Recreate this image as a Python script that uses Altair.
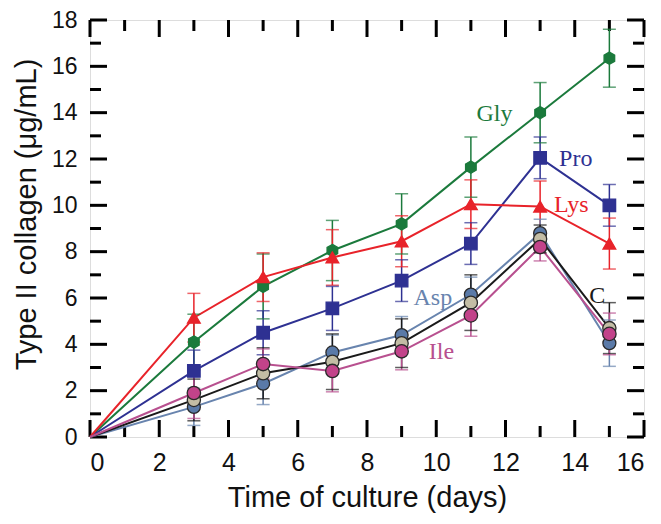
import altair as alt
import pandas as pd

days = [0, 3, 5, 7, 9, 11, 13, 15]
series_names = ["Gly", "Pro", "Lys", "Asp", "C", "Ile"]

gly = [0, 4.1, 6.5, 8.05, 9.2, 11.65, 14.0, 16.35]
gly_err = [0, 1.2, 1.4, 1.3, 1.3, 1.3, 1.3, 1.25]
pro = [0, 2.85, 4.5, 5.55, 6.75, 8.35, 12.05, 10.0]
pro_err = [0, 0.9, 0.95, 0.95, 0.9, 0.9, 0.9, 0.9]
lys = [0, 5.15, 6.9, 7.75, 8.45, 10.05, 9.95, 8.35]
lys_err = [0, 1.05, 1.05, 1.2, 1.1, 1.05, 1.1, 1.1]
asp = [0, 1.3, 2.3, 3.65, 4.4, 6.15, 8.8, 4.05]
asp_err = [0, 0.8, 0.9, 0.75, 0.8, 0.75, 0.6, 1.0]
c_vals = [0, 1.6, 2.75, 3.25, 4.05, 5.8, 8.55, 4.7]
c_err = [0, 0.9, 1.1, 1.2, 1.05, 1.2, 0.6, 1.1]
ile = [0, 1.9, 3.15, 2.85, 3.7, 5.25, 8.2, 4.45]
ile_err = [0, 1.1, 0.65, 0.9, 0.8, 0.9, 0.6, 0.9]

values = {"Gly": gly, "Pro": pro, "Lys": lys, "Asp": asp, "C": c_vals, "Ile": ile}
errors = {"Gly": gly_err, "Pro": pro_err, "Lys": lys_err, "Asp": asp_err, "C": c_err, "Ile": ile_err}

line_colors = ["#1b7a3c", "#2e3192", "#e8232a", "#6884ae", "#1a1a1a", "#b8508f"]
fill_colors = ["#1b7a3c", "#2e3192", "#e8232a", "#5a7aa8", "#c3bda5", "#c2438a"]
stroke_colors = ["#1b7a3c", "#2e3192", "#e8232a", "#2a2a2a", "#2a2a2a", "#2a2a2a"]
hexagon = "M0,-1L0.866,-0.5L0.866,0.5L0,1L-0.866,0.5L-0.866,-0.5Z"
shapes = [hexagon, "square", "triangle-up", "circle", "circle", "circle"]
sizes = [150, 180, 190, 190, 190, 190]

label_x = [11.68, 14.03, 13.9, 9.9, 14.65, 10.15]
label_y = [13.95, 12.0, 10.0, 6.0, 6.1, 3.65]

x_major = [0, 2, 4, 6, 8, 10, 12, 14, 16]
x_minor = [1, 3, 5, 7, 9, 11, 13, 15]
y_major = [0, 2, 4, 6, 8, 10, 12, 14, 16, 18]
y_minor = [1, 3, 5, 7, 9, 11, 13, 15, 17]

rows = []
for s in series_names:
    for d, v, e in zip(days, values[s], errors[s]):
        rows.append({"series": s, "day": d, "value": v, "lo": v - e, "hi": v + e})
df = pd.DataFrame(rows)
pts = df[df["day"] > 0]
caps = pd.concat([
    pts[["series", "day"]].assign(v=pts["lo"]),
    pts[["series", "day"]].assign(v=pts["hi"]),
])
labels_df = pd.DataFrame({"series": series_names, "x": label_x, "y": label_y})

W, H = 554, 417
xs = alt.Scale(domain=[0, 16], nice=False, zero=False)
ys = alt.Scale(domain=[0, 18], nice=False, zero=False)
col = alt.Scale(domain=series_names, range=line_colors)

base = alt.Chart(df)

line = base.mark_line(strokeWidth=2).encode(
    x=alt.X("day:Q", scale=xs,
            axis=alt.Axis(values=x_major, ticks=False, domain=False, grid=False,
                          labelFontSize=25, labelFont="Liberation Sans", labelColor="#111",
                          labelPadding=13, title="Time of culture (days)",
                          titleFontSize=29, titleFont="Liberation Sans",
                          titleFontWeight="normal", titleColor="#111", titlePadding=8)),
    y=alt.Y("value:Q", scale=ys,
            axis=alt.Axis(values=y_major, ticks=False, domain=False, grid=False,
                          labelFontSize=23, labelFont="Liberation Sans", labelColor="#111",
                          labelPadding=13, title="Type II collagen (μg/mL)",
                          titleFontSize=29, titleFont="Liberation Sans",
                          titleFontWeight="normal", titleColor="#111", titlePadding=10,
                          titleY=194)),
    color=alt.Color("series:N", scale=col, legend=None),
    detail="series:N",
    order="day:Q",
)

err = alt.Chart(pts).mark_rule(strokeWidth=1.5).encode(
    x="day:Q", y="lo:Q", y2="hi:Q",
    color=alt.Color("series:N", scale=col, legend=None),
)

cap = alt.Chart(caps).mark_tick(orient="horizontal", size=13, thickness=1.5).encode(
    x="day:Q", y="v:Q",
    color=alt.Color("series:N", scale=col, legend=None),
)

points = alt.Chart(pts).mark_point(filled=True, opacity=1, strokeWidth=1.3).encode(
    x="day:Q", y="value:Q",
    fill=alt.Fill("series:N", scale=alt.Scale(domain=series_names, range=fill_colors), legend=None),
    stroke=alt.Stroke("series:N", scale=alt.Scale(domain=series_names, range=stroke_colors), legend=None),
    shape=alt.Shape("series:N", scale=alt.Scale(domain=series_names, range=shapes), legend=None),
    size=alt.Size("series:N", scale=alt.Scale(domain=series_names, range=sizes), legend=None),
)

text = alt.Chart(labels_df).mark_text(font="Liberation Serif", fontSize=24).encode(
    x="x:Q", y="y:Q",
    color=alt.Color("series:N", scale=col, legend=None),
    text="series:N",
)

def ticks_x(vals, length):
    d = pd.DataFrame({"t": vals})
    bottom = alt.Chart(d).mark_rule(strokeWidth=3, color="black").encode(
        x="t:Q", y=alt.value(H), y2=alt.value(H - length))
    top = alt.Chart(d).mark_rule(strokeWidth=3, color="black").encode(
        x="t:Q", y=alt.value(0), y2=alt.value(length))
    return [bottom, top]

def ticks_y(vals, length):
    d = pd.DataFrame({"t": vals})
    left = alt.Chart(d).mark_rule(strokeWidth=3, color="black").encode(
        y="t:Q", x=alt.value(0), x2=alt.value(length))
    right = alt.Chart(d).mark_rule(strokeWidth=3, color="black").encode(
        y="t:Q", x=alt.value(W), x2=alt.value(W - length))
    return [left, right]

tick_layers = ticks_x(x_major, 17) + ticks_x(x_minor, 11) + ticks_y(y_major, 17) + ticks_y(y_minor, 11)

chart = alt.layer(
    *tick_layers, line, err, cap, points, text
).properties(
    width=W, height=H,
    autosize=alt.AutoSizeParams(type="none"),
    padding={"left": 82, "top": 12, "right": 9, "bottom": 79},
).configure_view(
    stroke="black", strokeWidth=3
).configure(background="white")

chart.save("out.html", embed_options={"renderer": "svg", "actions": False})
